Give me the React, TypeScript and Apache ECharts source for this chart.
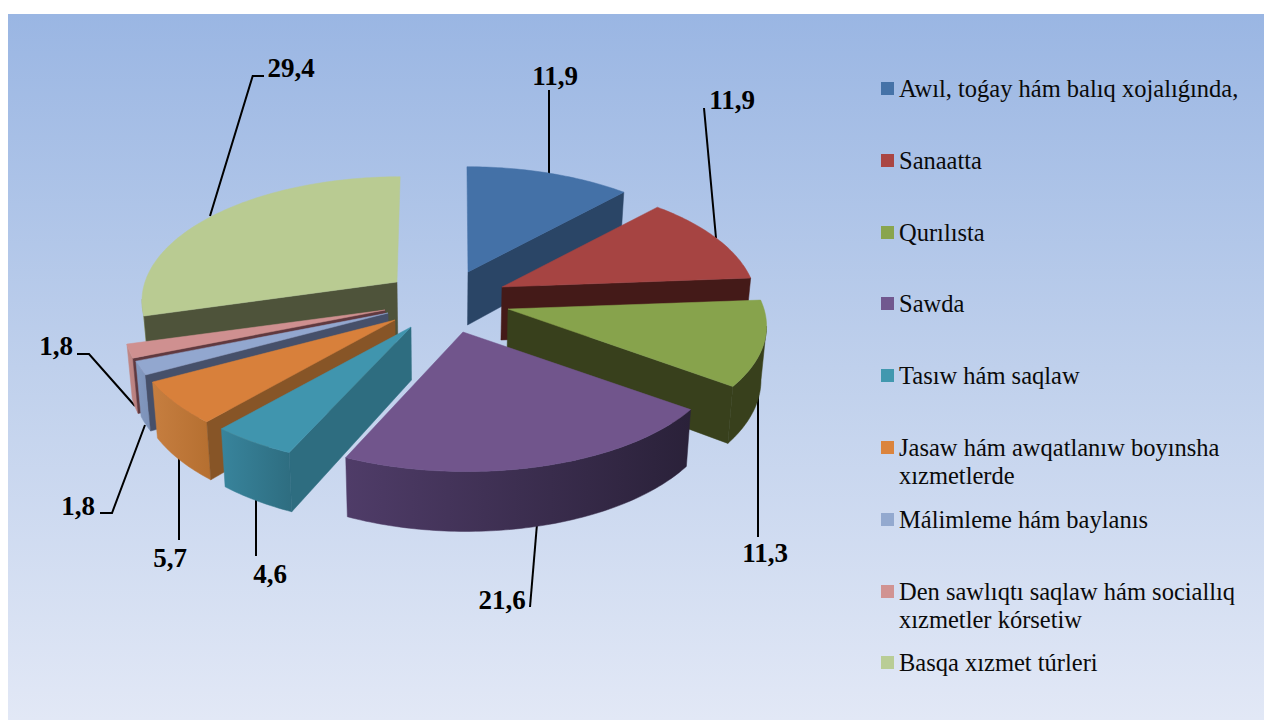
import React, { useEffect, useRef } from "react";
import * as echarts from "echarts";

const categories = [
  "Awıl, toǵay hám balıq xojalıǵında,",
  "Sanaatta",
  "Qurılısta",
  "Sawda",
  "Tasıw hám saqlaw",
  "Jasaw hám awqatlanıw boyınsha\nxızmetlerde",
  "Málimleme hám baylanıs",
  "Den sawlıqtı saqlaw hám sociallıq\nxızmetler kórsetiw",
  "Basqa xızmet túrleri",
];
const values = [11.9, 11.9, 11.3, 21.6, 4.6, 5.7, 1.8, 1.8, 29.4];

const topColors = ["#4471A7", "#A64442", "#87A34C", "#71558C", "#4095AE", "#D8803B", "#92A7CF", "#CF9090", "#B9CB92"];
const legendColors = ["#4572A7", "#AA4643", "#89A54E", "#71588F", "#4198AF", "#DB843D", "#93A9CF", "#D19392", "#B9CD96"];
const innerWallColors = ["#2A4566", "#441A18", "#38401C", "#2A2139", "#2E6D80", "#875527", "#46506A", "#60393F", "#4E533A"];
const outerWallFrom = ["#2A4566", "#441A18", "#38401C", "#4F3C68", "#38849C", "#C67E40", "#8399C0", "#C08886", "#A5B585"];
const outerWallTo = ["#2A4566", "#441A18", "#38401C", "#2A2139", "#2E6D80", "#B56F30", "#7C91B8", "#B88080", "#A5B585"];

const apexX = [468, 502, 508, 463, 411, 395, 388, 385, 397];
const apexY = [272, 287, 309, 332, 327, 320, 313, 310, 282];
const radiusX = [254, 252, 256, 257, 260, 258, 258, 258, 252];
const shear = [-0.01, 0, 0, -0.025, 0, 0, 0, 0, 0.03];
const drawOrder = [8, 0, 1, 2, 7, 6, 5, 4, 3];
const H = 120;
const K = 0.14;
const DEPTH = 53;

const labelX = [555, 732, 765, 502, 270, 170, 78, 56, 291];
const labelY = [76, 100, 553, 600, 574, 558, 506, 346, 68];
const leaderLines: number[][][] = [
  [[549, 90], [549, 176]],
  [[704, 108], [716, 238]],
  [[758, 396], [758, 537]],
  [[537, 524], [530, 607]],
  [[256, 500], [256, 556]],
  [[179, 458], [179, 540]],
  [[145, 425], [112, 513], [100, 513]],
  [[135, 406], [89, 354], [77, 354]],
  [[210, 216], [252.7, 76], [264, 76]],
];
const legendSwatchY = [82, 154, 226, 297, 369, 441, 513, 585, 656];

const total = values.reduce((a, b) => a + b, 0);
const startAngles = values.map((_, i) => (values.slice(0, i).reduce((a, b) => a + b, 0) / total) * 360);
const OUTER_MIN = (Math.acos(-K) * 180) / Math.PI;
const OUTER_MAX = 360 - OUTER_MIN;

type P = { x: number; y: number; s: number };
function top(i: number, deg: number): P {
  const t = (deg * Math.PI) / 180;
  const c = Math.cos(t);
  const s = 1 / (1 + K * c);
  return {
    x: apexX[i] + radiusX[i] * Math.sin(t) * s + shear[i] * H * c * s,
    y: apexY[i] - H * c * s,
    s,
  };
}
function drop(p: P): number[] {
  return [p.x - 0.017 * (p.x - 440), p.y + DEPTH * (1 + 0.8 * (p.s - 1))];
}
function arc(i: number, a: number, b: number): P[] {
  const n = Math.max(2, Math.ceil(Math.abs(b - a)));
  const out: P[] = [];
  for (let k = 0; k <= n; k++) out.push(top(i, a + ((b - a) * k) / n));
  return out;
}
function poly(points: number[][], fill: any, stroke?: any) {
  return {
    type: "polygon",
    shape: { points },
    style: { fill, stroke: stroke || "none", lineWidth: stroke ? 0.5 : 0 },
  };
}

function renderSlice(_: any, api: any) {
  const i = api.value(1) as number;
  const a0 = startAngles[i];
  const a1 = a0 + ((api.value(0) as number) / total) * 360;
  const children: any[] = [];
  const apex: P = { x: apexX[i], y: apexY[i], s: 1 };
  // outer curved wall
  const oa = Math.max(a0, OUTER_MIN);
  const ob = Math.min(a1, OUTER_MAX);
  if (ob > oa) {
    const rim = arc(i, oa, ob);
    const pts = rim.map((p) => [p.x, p.y]).concat(rim.slice().reverse().map(drop));
    const fill = new echarts.graphic.LinearGradient(0, 0, 1, 0, [
      { offset: 0, color: outerWallFrom[i] },
      { offset: 1, color: outerWallTo[i] },
    ]);
    children.push(poly(pts, fill, fill));
  }
  // radial wall facing the viewer
  if (a1 < 180 || a0 > 180) {
    const edge = top(i, a1 < 180 ? a1 : a0);
    children.push(
      poly(
        [[apex.x, apex.y], [edge.x, edge.y], drop(edge), drop(apex)],
        innerWallColors[i],
        innerWallColors[i]
      )
    );
  }
  // top face
  const rim = arc(i, a0, a1);
  children.push(
    poly([[apex.x, apex.y], ...rim.map((p) => [p.x, p.y])], topColors[i], topColors[i])
  );
  return { type: "group", children };
}

const FONT = '"Liberation Serif", "Times New Roman", serif';

export default function App() {
  const ref = useRef<HTMLDivElement>(null);
  useEffect(() => {
    const chart = echarts.init(ref.current!, null, { renderer: "svg" });
    const graphics: any[] = [
      {
        type: "rect",
        shape: { x: 8, y: 14, width: 1256, height: 706 },
        style: {
          fill: new echarts.graphic.LinearGradient(0, 0, 0, 1, [
            { offset: 0, color: "#9AB6E3" },
            { offset: 0.5, color: "#BFD0EC" },
            { offset: 1, color: "#E2E8F6" },
          ]),
        },
      },
    ];
    leaderLines.forEach((pts) => {
      graphics.push({
        type: "polyline",
        shape: { points: pts },
        style: { stroke: "#000", lineWidth: 2, fill: "none" },
      });
    });
    values.forEach((v, i) => {
      graphics.push({
        type: "text",
        x: labelX[i],
        y: labelY[i],
        style: {
          text: v.toFixed(1).replace(".", ","),
          font: `bold 27px ${FONT}`,
          fill: "#000",
          textAlign: "center",
          textVerticalAlign: "middle",
        },
      });
    });
    categories.forEach((name, i) => {
      graphics.push({
        type: "rect",
        shape: { x: 881, y: legendSwatchY[i], width: 13, height: 13 },
        style: { fill: legendColors[i] },
      });
      graphics.push({
        type: "text",
        x: 899,
        y: legendSwatchY[i] - 8,
        style: {
          text: name,
          font: `24.5px ${FONT}`,
          fill: "#0a0a0a",
          lineHeight: 28,
          textAlign: "left",
          textVerticalAlign: "top",
        },
      });
    });
    chart.setOption({
      animation: false,
      graphic: graphics,
      series: [
        {
          type: "custom",
          coordinateSystem: "none",
          renderItem: renderSlice,
          silent: true,
          data: drawOrder.map((i) => ({ name: categories[i], value: [values[i], i] })),
        },
      ],
    });
    return () => chart.dispose();
  }, []);
  return (
    <div
      ref={ref}
      style={{ position: "fixed", left: 0, top: 0, width: 1264, height: 720, background: "#fff" }}
    />
  );
}
